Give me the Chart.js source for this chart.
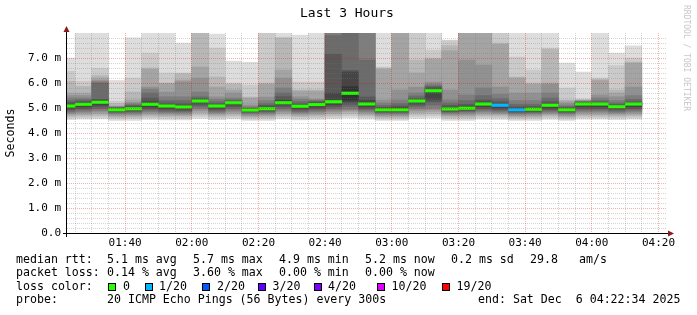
<!DOCTYPE html>
<html><head><meta charset="utf-8">
<script src="https://cdn.jsdelivr.net/npm/chart.js@4.4.1/dist/chart.umd.min.js"></script>
<style>
html,body{margin:0;padding:0;background:#fff;}
#wrap{position:relative;width:697px;height:315px;overflow:hidden;font-family:"DejaVu Sans Mono",monospace;color:#000;background:#fff;}
canvas{position:absolute;left:0;top:0;}
.t{position:absolute;white-space:pre;font-size:11.6px;line-height:13px;}
.box{position:absolute;width:6px;height:6px;border:1px solid #000;top:283px;}
#title{position:absolute;left:300px;top:5px;font-size:13px;line-height:15px;white-space:pre;}
#wm{position:absolute;left:691px;top:5px;font-size:8px;line-height:9px;color:#c8c8c8;white-space:pre;transform:rotate(90deg);transform-origin:top left;}
</style></head><body>
<div id="wrap">
<canvas id="c" width="697" height="315"></canvas>
<div id="title">Last 3 Hours</div>
<div id="wm">RRDTOOL / TOBI OETIKER</div>

<div class="t" style="left:16px;top:252.5px">median rtt:</div>
<div class="t" style="left:107px;top:252.5px">5.1 ms avg</div>
<div class="t" style="left:193px;top:252.5px">5.7 ms max</div>
<div class="t" style="left:279px;top:252.5px">4.9 ms min</div>
<div class="t" style="left:365px;top:252.5px">5.2 ms now</div>
<div class="t" style="left:451px;top:252.5px">0.2 ms sd</div>
<div class="t" style="left:530px;top:252.5px">29.8</div>
<div class="t" style="left:579px;top:252.5px">am/s</div>

<div class="t" style="left:16px;top:266px">packet loss:</div>
<div class="t" style="left:107px;top:266px">0.14 % avg</div>
<div class="t" style="left:193px;top:266px">3.60 % max</div>
<div class="t" style="left:279px;top:266px">0.00 % min</div>
<div class="t" style="left:365px;top:266px">0.00 % now</div>

<div class="t" style="left:16px;top:279.5px">loss color:</div>
<div class="box" style="left:108px;background:#26ff00"></div><div class="t" style="left:123px;top:279.5px">0</div>
<div class="box" style="left:145px;background:#00b8ff"></div><div class="t" style="left:159px;top:279.5px">1/20</div>
<div class="box" style="left:202px;background:#0059ff"></div><div class="t" style="left:217px;top:279.5px">2/20</div>
<div class="box" style="left:258px;background:#5e00ff"></div><div class="t" style="left:272.5px;top:279.5px">3/20</div>
<div class="box" style="left:314px;background:#7e00ff"></div><div class="t" style="left:328px;top:279.5px">4/20</div>
<div class="box" style="left:377px;background:#dd00ff"></div><div class="t" style="left:391.5px;top:279.5px">10/20</div>
<div class="box" style="left:442px;background:#ff0000"></div><div class="t" style="left:456.5px;top:279.5px">19/20</div>

<div class="t" style="left:16px;top:293px">probe:</div>
<div class="t" style="left:107px;top:293px">20 ICMP Echo Pings (56 Bytes) every 300s</div>
<div class="t" style="left:478px;top:293px">end: Sat Dec  6 04:22:34 2025</div>
</div>
<script>
// ---- data ----
const binStart = ["01:20","01:25","01:30","01:35","01:40","01:45","01:50","01:55","02:00","02:05","02:10","02:15",
  "02:20","02:25","02:30","02:35","02:40","02:45","02:50","02:55","03:00","03:05","03:10","03:15",
  "03:20","03:25","03:30","03:35","03:40","03:45","03:50","03:55","04:00","04:05","04:10"];
const medianRtt = [5.08,5.15,5.23,4.93,4.97,5.15,5.08,5.04,5.28,5.08,5.21,4.92,4.97,5.21,5.07,5.14,5.25,5.59,
  5.16,4.93,4.93,5.28,5.69,4.96,4.99,5.16,5.11,4.93,4.95,5.11,4.93,5.16,5.16,5.05,5.16];
const lossPct = [0,0,0,0,0,0,0,0,0,0,0,0,0,0,0,0,0,0,0,0,0,0,0,0,0,0,3.6,1.4,0,0,0,0,0,0,0];
// 20 sorted ping times (ms) per 5-minute bin
const pingsByBin = [
 [4.53,4.60,4.66,4.72,4.77,4.82,4.87,4.93,5.00,5.05,5.11,5.16,5.22,5.30,5.40,5.50,5.60,6.07,6.47,7.00],
 [4.55,4.62,4.68,4.74,4.80,4.86,4.92,4.98,5.05,5.12,5.18,5.22,5.27,5.33,5.40,5.50,5.60,5.87,6.07,8.50],
 [4.56,4.63,4.70,4.77,4.84,4.90,4.97,5.04,5.12,5.20,5.26,5.30,5.35,6.00,6.05,6.10,6.20,6.30,6.59,8.50],
 [4.50,4.56,4.62,4.67,4.72,4.77,4.81,4.85,4.88,4.91,4.95,4.98,5.00,5.02,5.04,5.06,5.08,5.18,5.27,6.10],
 [4.50,4.57,4.63,4.68,4.73,4.78,4.83,4.87,4.91,4.95,4.99,5.03,5.08,5.12,5.17,5.22,5.32,5.64,6.20,7.81],
 [4.54,4.61,4.67,4.73,4.79,4.85,4.91,4.97,5.04,5.12,5.18,5.25,5.40,5.60,5.75,5.84,6.55,6.60,7.20,8.50],
 [4.52,4.59,4.65,4.71,4.76,4.81,4.86,4.92,4.99,5.05,5.11,5.14,5.20,5.30,5.45,5.64,5.98,6.00,6.40,8.50],
 [4.52,4.58,4.64,4.70,4.75,4.80,4.85,4.90,4.96,5.02,5.06,5.10,5.18,5.30,5.45,6.05,6.12,6.38,6.40,7.60],
 [4.58,4.66,4.74,4.82,4.90,4.98,5.05,5.12,5.19,5.26,5.30,5.33,5.38,5.45,5.64,6.20,6.64,8.10,8.30,8.60],
 [4.53,4.60,4.66,4.72,4.77,4.82,4.87,4.93,5.00,5.05,5.11,5.13,5.18,5.25,5.35,5.45,5.84,6.24,7.40,7.96],
 [4.56,4.63,4.70,4.77,4.84,4.91,4.98,5.05,5.12,5.19,5.23,5.25,5.28,5.32,5.40,5.60,5.72,5.95,6.00,6.88],
 [4.50,4.55,4.61,4.66,4.71,4.76,4.80,4.84,4.87,4.90,4.94,4.96,4.98,5.00,5.05,5.12,5.40,5.44,5.92,6.83],
 [4.50,4.56,4.62,4.68,4.73,4.78,4.83,4.87,4.91,4.95,4.99,5.03,5.10,5.18,5.30,5.44,5.95,6.00,8.20,8.50],
 [4.56,4.63,4.70,4.77,4.84,4.91,4.98,5.05,5.12,5.18,5.24,5.30,5.45,5.60,5.80,6.20,6.52,7.80,7.84,8.50],
 [4.52,4.59,4.65,4.71,4.76,4.81,4.86,4.92,4.99,5.04,5.10,5.12,5.17,5.25,5.35,5.45,5.68,5.72,6.04,7.92],
 [4.54,4.61,4.67,4.73,4.79,4.85,4.91,4.97,5.04,5.11,5.17,5.20,5.24,5.28,5.32,5.35,5.68,5.72,6.04,8.50],
 [4.56,4.63,4.70,4.77,4.84,4.91,4.98,5.05,5.13,5.22,5.28,5.59,7.16,7.90,8.50,8.60,8.70,8.80,8.90,9.00],
 [4.60,4.68,4.76,4.84,4.90,4.95,5.05,5.15,5.25,5.32,5.85,6.44,6.50,8.30,8.50,8.60,8.70,8.80,8.90,9.00],
 [4.55,4.62,4.68,4.74,4.80,4.86,4.92,4.98,5.05,5.12,5.20,5.30,5.44,6.92,8.30,8.50,8.60,8.70,8.80,8.90],
 [4.50,4.55,4.61,4.66,4.71,4.76,4.80,4.84,4.87,4.90,4.96,4.98,5.03,5.10,5.20,5.32,6.55,6.60,6.64,8.50],
 [4.50,4.55,4.61,4.66,4.71,4.76,4.80,4.84,4.87,4.90,4.96,5.00,5.08,5.18,5.32,5.72,8.20,8.40,8.60,8.80],
 [4.58,4.66,4.74,4.82,4.90,4.98,5.05,5.12,5.19,5.25,5.31,5.33,5.38,5.48,5.60,5.84,6.40,6.92,8.30,8.60],
 [4.60,4.68,4.76,4.84,4.92,5.00,5.12,5.25,5.35,5.66,5.72,5.76,5.84,5.88,5.95,6.04,6.95,7.00,7.32,8.50],
 [4.50,4.56,4.62,4.68,4.73,4.78,4.82,4.86,4.90,4.93,4.99,5.02,5.10,5.20,5.32,5.72,7.30,7.50,7.70,7.72],
 [4.50,4.56,4.62,4.68,4.74,4.80,4.85,4.89,4.93,4.96,5.02,5.06,5.15,5.30,5.52,6.92,8.20,8.40,8.60,8.80],
 [4.55,4.62,4.68,4.74,4.80,4.86,4.92,4.98,5.05,5.13,5.19,5.24,5.32,5.50,5.80,6.72,8.20,8.40,8.60,8.80],
 [4.54,4.61,4.67,4.73,4.78,4.83,4.88,4.94,5.01,5.08,5.14,5.17,5.25,5.38,5.55,5.84,7.55,7.60,8.30,8.60],
 [4.50,4.55,4.61,4.66,4.71,4.76,4.80,4.84,4.87,4.90,4.96,4.99,5.05,5.15,5.30,5.60,6.20,6.24,7.04,8.50],
 [4.50,4.56,4.62,4.67,4.72,4.77,4.81,4.85,4.89,4.92,4.98,5.00,5.06,5.15,5.30,5.60,5.95,6.00,6.52,8.50],
 [4.54,4.61,4.67,4.73,4.78,4.83,4.88,4.94,5.01,5.08,5.14,5.17,5.25,5.40,5.60,5.95,6.00,7.35,7.40,8.50],
 [4.50,4.55,4.61,4.66,4.71,4.76,4.80,4.84,4.87,4.90,4.96,4.98,5.01,5.06,5.12,5.20,5.28,5.32,5.80,6.80],
 [4.55,4.62,4.68,4.74,4.80,4.86,4.92,4.98,5.05,5.13,5.19,5.21,5.23,5.25,5.27,5.29,5.31,5.33,5.36,6.44],
 [4.55,4.62,4.68,4.74,4.80,4.86,4.92,4.98,5.05,5.13,5.19,5.20,5.24,5.30,5.40,5.52,6.10,6.15,6.20,8.50],
 [4.53,4.60,4.66,4.72,4.77,4.82,4.87,4.93,4.99,5.03,5.07,5.10,5.13,5.20,5.30,5.45,5.60,5.72,6.70,7.20],
 [4.55,4.62,4.68,4.74,4.80,4.86,4.92,4.98,5.05,5.13,5.19,5.20,5.25,5.35,5.50,5.84,6.80,6.84,7.00,7.49]
];
const xTickLabels = ["01:40","02:00","02:20","02:40","03:00","03:20","03:40","04:00","04:20"];
const yTickValues = [0,1,2,3,4,5,6,7];
const rangeStart = "01:22:34", rangeEnd = "04:22:34";

// ---- helpers ----
const toMin = s => { const p = s.split(':').map(Number); return p[0]*60 + p[1] + (p[2]||0)/60; };
const BIN = 5;
const centers = binStart.map(s => toMin(s) + BIN/2);
const xMin = toMin(rangeStart), xMax = toMin(rangeEnd);
const fmtTime = v => { const h = Math.floor(v/60), m = Math.round(v%60); return String(h).padStart(2,'0')+':'+String(m).padStart(2,'0'); };
function lossColor(p){
  if (p <= 0) return '#26ff00';
  if (p <= 5) return '#00b8ff';
  if (p <= 10) return '#0059ff';
  if (p <= 15) return '#5e00ff';
  if (p <= 20) return '#7e00ff';
  if (p <= 50) return '#dd00ff';
  return '#ff0000';
}
const HALF = 10;
const shade = k => { const c = Math.floor(190/HALF*(HALF-k)) + 50; const h = c.toString(16).padStart(2,'0'); return '#'+h+h+h; };

const datasets = [];
datasets.push({
  label: 'median',
  data: centers.map((x,i) => ({x, y: [medianRtt[i]-0.05, medianRtt[i]+0.05]})),
  backgroundColor: lossPct.map(lossColor),
  order: 0
});
for (let k = HALF; k >= 1; k--) {
  datasets.push({
    label: 'smoke'+k,
    data: centers.map((x,i) => ({x, y: [pingsByBin[i][k-1], pingsByBin[i][20-k]]})),
    backgroundColor: shade(k),
    order: 11 - k
  });
}

const rrdGrid = {
  id: 'rrdGrid',
  afterDatasetsDraw(chart) {
    const {ctx, chartArea: a, scales: {x, y}} = chart;
    const minor = 'rgba(120,120,120,0.32)', major = 'rgba(225,0,0,0.32)';
    ctx.save();
    ctx.lineWidth = 1;
    ctx.setLineDash([1,1]);
    for (let i = 1; i < 40; i++) {
      const v = i/5;
      const py = Math.round(y.getPixelForValue(v)) + 0.5;
      if (py < a.top) continue;
      ctx.strokeStyle = (i % 5 === 0) ? major : minor;
      ctx.beginPath(); ctx.moveTo(a.left, py); ctx.lineTo(a.right, py); ctx.stroke();
    }
    for (let t = Math.ceil(xMin/5)*5; t <= xMax; t += 5) {
      const px = Math.floor(x.getPixelForValue(t)) + 0.5;
      ctx.strokeStyle = (t % 20 === 0) ? major : minor;
      ctx.beginPath(); ctx.moveTo(px, a.top); ctx.lineTo(px, a.bottom); ctx.stroke();
    }
    ctx.setLineDash([]);
    ctx.strokeStyle = '#000';
    const bx = a.left - 0.5, by = a.bottom + 0.5;
    ctx.beginPath(); ctx.moveTo(a.left - 4, by); ctx.lineTo(a.right + 2, by); ctx.stroke();
    ctx.beginPath(); ctx.moveTo(bx, a.bottom + 4); ctx.lineTo(bx, a.top - 2); ctx.stroke();
    ctx.fillStyle = '#8b1a1a';
    ctx.beginPath(); ctx.moveTo(bx, a.top - 7); ctx.lineTo(bx - 3, a.top - 1); ctx.lineTo(bx + 3, a.top - 1); ctx.closePath(); ctx.fill();
    ctx.beginPath(); ctx.moveTo(a.right + 7, by); ctx.lineTo(a.right + 1, by - 3); ctx.lineTo(a.right + 1, by + 3); ctx.closePath(); ctx.fill();
    ctx.restore();
  }
};

const font = {family: '"DejaVu Sans Mono", monospace', size: 11};
new Chart(document.getElementById('c'), {
  type: 'bar',
  data: {datasets},
  options: {
    responsive: false,
    devicePixelRatio: 1,
    animation: false,
    layout: {padding: {top: 33, right: 30, left: 0, bottom: 0}},
    plugins: {legend: {display: false}, tooltip: {enabled: false}, title: {display: false}},
    datasets: {bar: {grouped: false, barPercentage: 1, categoryPercentage: 1, borderWidth: 0}},
    scales: {
      x: {
        type: 'linear', min: xMin, max: xMax, offset: false,
        grid: {display: false, drawTicks: false}, border: {display: false},
        afterBuildTicks: s => { s.ticks = xTickLabels.map(l => ({value: toMin(l)})); },
        afterFit: s => { s.height = 82; },
        ticks: {font, color: '#000', padding: 4, maxRotation: 0, autoSkip: false, callback: v => fmtTime(v)}
      },
      y: {
        type: 'linear', min: 0, max: 8,
        grid: {display: false, drawTicks: false}, border: {display: false},
        afterBuildTicks: s => { s.ticks = yTickValues.map(v => ({value: v})); },
        afterFit: s => { s.width = 67; },
        title: {display: true, text: 'Seconds', font: {family: '"DejaVu Sans Mono", monospace', size: 11.6}, color: '#000', padding: {top: 4, bottom: 0}},
        ticks: {font, color: '#000', padding: 6, callback: v => v === 0 ? '0.0' : v.toFixed(1) + ' m'}
      }
    }
  },
  plugins: [rrdGrid]
});
</script>
</body></html>
